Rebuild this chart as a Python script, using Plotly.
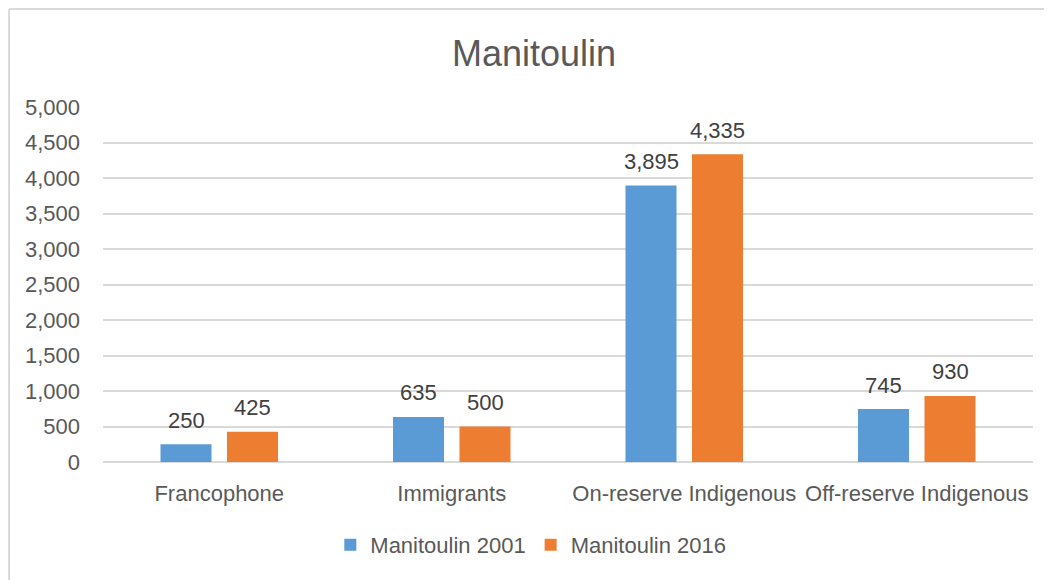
import plotly.graph_objects as go

categories = ["Francophone", "Immigrants", "On-reserve Indigenous", "Off-reserve Indigenous"]
series_names = ["Manitoulin 2001", "Manitoulin 2016"]
values_2001 = [250, 635, 3895, 745]
values_2016 = [425, 500, 4335, 930]
y_ticks = [0, 500, 1000, 1500, 2000, 2500, 3000, 3500, 4000, 4500, 5000]

colors = ["#5B9BD5", "#ED7D31"]
FONT = "Liberation Sans"
TXT = "#595959"

fig = go.Figure()
for name, vals, col in zip(series_names, [values_2001, values_2016], colors):
    fig.add_trace(go.Bar(
        x=categories, y=vals, name=name,
        marker=dict(color=col, line=dict(width=0)),
    ))

# data labels above bars
annotations = []
for shift, vals in zip([-33.25, 33.25], [values_2001, values_2016]):
    for c, v in zip(categories, vals):
        annotations.append(dict(
            x=c, y=v, xref="x", yref="y", text=f"{v:,}", showarrow=False,
            xshift=shift, yshift=24, yanchor="middle", xanchor="center",
            font=dict(family=FONT, size=22, color="#404040"),
        ))

border = dict(color="#D9D9D9", width=2)
fig.update_layout(
    width=1044, height=572,
    margin=dict(l=95, r=19, t=99, b=118),
    paper_bgcolor="white", plot_bgcolor="white",
    barmode="group", bargap=0.428, bargroupgap=0.233,
    title=dict(text="Manitoulin", x=526 / 1044, xanchor="center", y=1 - 45 / 572, yanchor="middle",
               font=dict(family=FONT, size=36, color=TXT)),
    font=dict(family=FONT, color=TXT),
    showlegend=True,
    legend=dict(orientation="h", x=0.46, xanchor="center", y=-0.234, yanchor="middle",
                font=dict(family=FONT, size=22, color=TXT), itemwidth=30,
                traceorder="normal"),
    xaxis=dict(showgrid=False, showline=False, ticks="", tickfont=dict(family=FONT, size=22, color=TXT),
               ticklabelstandoff=16),
    yaxis=dict(range=[0, 5000], tickvals=y_ticks, tickformat=",", showgrid=True,
               gridcolor="#D9D9D9", gridwidth=2, zeroline=True, zerolinecolor="#D9D9D9",
               zerolinewidth=2, showline=False, ticks="",
               tickfont=dict(family=FONT, size=22, color=TXT), ticklabelstandoff=22),
    annotations=annotations,
    shapes=[
        dict(type="line", xref="paper", yref="paper", x0=-0.101, x1=1.03, y0=1.276, y1=1.276,
             line=border, layer="below"),
        dict(type="line", xref="paper", yref="paper", x0=-0.101, x1=-0.101, y0=-0.35, y1=1.276,
             line=border, layer="below"),
    ],
)

fig.write_html("out.html")
